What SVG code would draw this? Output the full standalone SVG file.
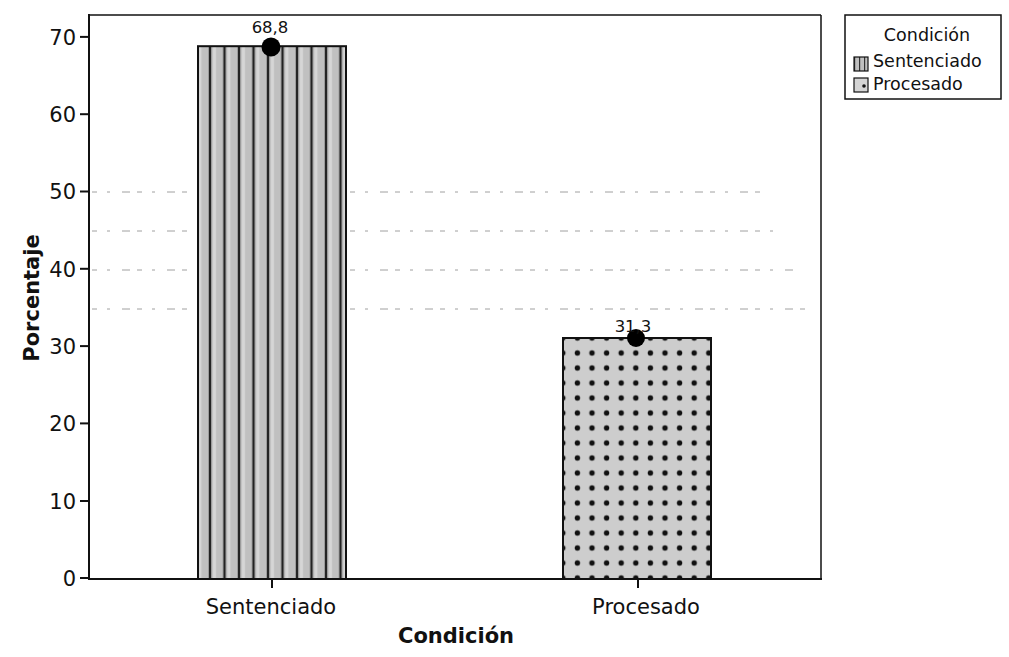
<svg xmlns="http://www.w3.org/2000/svg" width="1009" height="657" viewBox="0 0 1009 657">
<style>
text{font-family:"DejaVu Sans","Verdana",sans-serif;fill:#111}
.tick{font-size:21px}
.title{font-size:21px;font-weight:bold}
.lab{font-size:16.5px}
.leg{font-size:17.5px}
.ax{stroke:#111;stroke-width:2;fill:none}
.grid{stroke:#777;stroke-width:1;stroke-dasharray:5 10 3 12 8 7;fill:none;opacity:0.7}
</style>
<defs>
<pattern id="stripes" patternUnits="userSpaceOnUse" x="195.5" y="0" width="14.5" height="20">
<rect width="14.5" height="20" fill="#c0c0c0"/>
<rect x="3" y="0" width="3" height="20" fill="#d6d6d6"/>
<rect x="-1" y="0" width="2.2" height="20" fill="#222"/>
<rect x="13.3" y="0" width="2.2" height="20" fill="#222"/>
</pattern>
<pattern id="dots" patternUnits="userSpaceOnUse" x="555.5" y="330.5" width="14.6" height="15">
<rect width="14.6" height="15" fill="#cdcdcd"/>
<circle cx="7.3" cy="7.5" r="2.7" fill="#111"/>
</pattern>
<pattern id="swS" patternUnits="userSpaceOnUse" x="854" y="58" width="5" height="14">
<rect width="5" height="14" fill="#c0c0c0"/>
<rect x="0" width="1.2" height="14" fill="#333"/>
</pattern>
</defs>
<rect width="1009" height="657" fill="#fff"/>

<g id="gridlines">
<line class="grid" x1="92" y1="192" x2="196" y2="192"/>
<line class="grid" x1="350" y1="192" x2="770" y2="192"/>
<line class="grid" x1="92" y1="231" x2="196" y2="231"/>
<line class="grid" x1="350" y1="231" x2="775" y2="231"/>
<line class="grid" x1="92" y1="270" x2="196" y2="270"/>
<line class="grid" x1="350" y1="270" x2="795" y2="270"/>
<line class="grid" x1="92" y1="309" x2="196" y2="309"/>
<line class="grid" x1="350" y1="309" x2="805" y2="309"/>
</g>

<g id="frame">
<line class="ax" x1="89" y1="15" x2="821" y2="15" style="stroke-width:1.5"/>
<line class="ax" x1="821" y1="15" x2="821" y2="579" style="stroke-width:1.5"/>
<line class="ax" x1="89" y1="14" x2="89" y2="580"/>
<line class="ax" x1="88" y1="579" x2="822" y2="579"/>
</g>

<g id="yaxis">
<g class="ax">
<line x1="80" y1="578" x2="89" y2="578"/>
<line x1="80" y1="501" x2="89" y2="501"/>
<line x1="80" y1="423.4" x2="89" y2="423.4"/>
<line x1="80" y1="346.1" x2="89" y2="346.1"/>
<line x1="80" y1="268.8" x2="89" y2="268.8"/>
<line x1="80" y1="191.5" x2="89" y2="191.5"/>
<line x1="80" y1="114.2" x2="89" y2="114.2"/>
<line x1="80" y1="36.9" x2="89" y2="36.9"/>
</g>
<g class="tick" text-anchor="end">
<text x="76" y="585.5">0</text>
<text x="76" y="508.5">10</text>
<text x="76" y="431">20</text>
<text x="76" y="353.5">30</text>
<text x="76" y="276.5">40</text>
<text x="76" y="199">50</text>
<text x="76" y="121.5">60</text>
<text x="76" y="44.5">70</text>
</g>
<text class="title" transform="translate(39,298) rotate(-90)" text-anchor="middle">Porcentaje</text>
</g>

<g id="xaxis">
<line class="ax" x1="272" y1="579" x2="272" y2="588"/>
<line class="ax" x1="638" y1="579" x2="638" y2="588"/>
<text class="tick" x="271" y="614" text-anchor="middle">Sentenciado</text>
<text class="tick" x="646" y="614" text-anchor="middle">Procesado</text>
<text class="title" x="456" y="643" text-anchor="middle">Condición</text>
</g>

<g id="bar-sentenciado">
<rect x="198" y="46.2" width="148" height="532.8" fill="url(#stripes)" stroke="#111" stroke-width="2"/>
<circle cx="271" cy="47" r="9.5" fill="#000"/>
<text class="lab" x="270" y="33" text-anchor="middle">68,8</text>
</g>

<g id="bar-procesado">
<rect x="563" y="338" width="148" height="241" fill="url(#dots)" stroke="#111" stroke-width="2"/>
<circle cx="636" cy="338" r="9" fill="#000"/>
<text class="lab" x="633" y="332" text-anchor="middle">31,3</text>
</g>

<g id="legend">
<rect x="845" y="15" width="156" height="84" fill="#fff" stroke="#111" stroke-width="1.5"/>
<text class="leg" x="927" y="41" text-anchor="middle">Condición</text>
<rect x="854" y="57" width="14" height="14" fill="url(#swS)" stroke="#111" stroke-width="1.2"/>
<text class="leg" x="873" y="67">Sentenciado</text>
<rect x="854" y="78" width="14" height="14" fill="#d4d4d4" stroke="#111" stroke-width="1.2"/>
<circle cx="864" cy="86" r="1.8" fill="#111"/>
<text class="leg" x="873" y="90">Procesado</text>
</g>
</svg>
